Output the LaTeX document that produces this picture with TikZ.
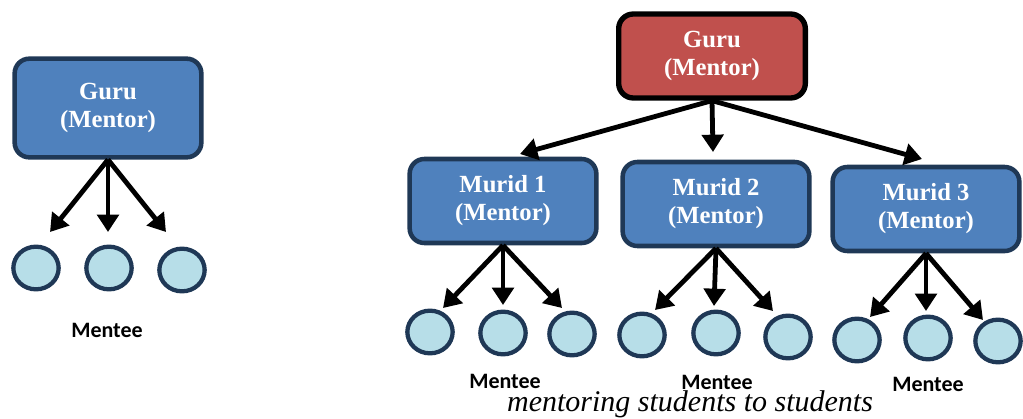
\documentclass[tikz,border=0pt]{standalone}
\usepackage{fontspec}
\setmainfont{Liberation Serif}
\newfontfamily\menteefont{Carlito}
\usetikzlibrary{arrows.meta,shapes.geometric}
\definecolor{boxblue}{HTML}{4F81BD}
\definecolor{boxred}{HTML}{C0504D}
\definecolor{navy}{HTML}{1F3856}
\definecolor{lightcyan}{HTML}{B7DEE8}
\begin{document}
\begin{tikzpicture}[x=0.75pt,y=-0.75pt,
	mentor/.style={draw=navy,fill=boxblue,line width=3.4pt,rounded corners=11pt,
		minimum width=140pt,minimum height=63pt,align=center,text=white,
		font=\bfseries\fontsize{18.5}{21}\selectfont},
	mentee/.style={ellipse,draw=navy,fill=lightcyan,line width=3.2pt,
		minimum width=34pt,minimum height=32pt,inner sep=0pt},
	label/.style={inner sep=0pt,font=\menteefont\bfseries\fontsize{16.5}{18}\selectfont},
	arr/.style={line width=3.6pt,-{Triangle[width=16pt,length=13pt]}}]
			\useasboundingbox (0,0) rectangle (1023,418);
			\node [mentor,minimum height=74pt] (guruL) at (108,108) {Guru\\(Mentor)};
			\node [mentee] (l1) at (36,268) {};
			\node [mentee] (l2) at (109,268) {};
			\node [mentee] (l3) at (182,270) {};
			\coordinate (tl1) at (50,232);
			\coordinate (tl2) at (108,232);
			\coordinate (tl3) at (166,232);
			\draw [arr] (guruL.south) -- (tl1);
			\draw [arr] (guruL.south) -- (tl2);
			\draw [arr] (guruL.south) -- (tl3);
			\node [label] (menteeL) at (107,330) {Mentee};
			\node [mentor,draw=black,line width=4pt,fill=boxred] (guruR) at (712,56) {Guru\\(Mentor)};
			\node [mentor] (m1) at (503,201) {Murid 1\\(Mentor)};
			\node [mentor] (m2) at (716,204) {Murid 2\\(Mentor)};
			\node [mentor] (m3) at (926,209) {Murid 3\\(Mentor)};
			\coordinate (t1) at (520,154);
			\coordinate (t2) at (713,152);
			\coordinate (t3) at (922,159);
			\draw [arr] (guruR.south) -- (t1);
			\draw [arr] (guruR.south) -- (t2);
			\draw [arr] (guruR.south) -- (t3);
			\node [mentee] (a1) at (430,332) {};
			\node [mentee] (a2) at (503,333) {};
			\node [mentee] (a3) at (572,334) {};
			\node [mentee] (b1) at (642,335) {};
			\node [mentee] (b2) at (716,333) {};
			\node [mentee] (b3) at (788,337) {};
			\node [mentee] (c1) at (857,340) {};
			\node [mentee] (c2) at (928,338) {};
			\node [mentee] (c3) at (998,341) {};
			\coordinate (ta1) at (443,308);
			\coordinate (ta2) at (503,305);
			\coordinate (ta3) at (562,308);
			\coordinate (tb1) at (655,310);
			\coordinate (tb2) at (714,306);
			\coordinate (tb3) at (773,311);
			\coordinate (tc1) at (870,317);
			\coordinate (tc2) at (926,311);
			\coordinate (tc3) at (983,320);
			\draw [arr] (m1.south) -- (ta1);
			\draw [arr] (m1.south) -- (ta2);
			\draw [arr] (m1.south) -- (ta3);
			\draw [arr] (m2.south) -- (tb1);
			\draw [arr] (m2.south) -- (tb2);
			\draw [arr] (m2.south) -- (tb3);
			\draw [arr] (m3.south) -- (tc1);
			\draw [arr] (m3.south) -- (tc2);
			\draw [arr] (m3.south) -- (tc3);
			\node [label] (menteeA) at (505,381) {Mentee};
			\node [label] (menteeB) at (717,382) {Mentee};
			\node [label] (menteeC) at (928,384) {Mentee};
			\node [inner sep=0pt,font=\itshape\fontsize{22.5}{26}\selectfont] (caption) at (690,404) {mentoring students to students};
		\end{tikzpicture}
\end{document}
